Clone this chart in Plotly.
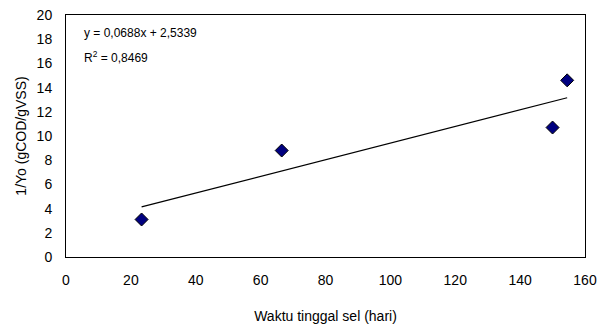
import plotly.graph_objects as go

# Data
waktu = [23.3, 66.5, 150.0, 154.5]          # Waktu tinggal sel (hari)
inv_yo = [3.1, 8.8, 10.7, 14.6]             # 1/Yo (gCOD/gVSS)
slope = 0.0688
intercept = 2.5339
r2 = 0.8469

x_ticks = [0, 20, 40, 60, 80, 100, 120, 140, 160]
y_ticks = [0, 2, 4, 6, 8, 10, 12, 14, 16, 18, 20]

FONT = "Liberation Sans, Arial, sans-serif"

xmin, xmax = min(waktu), max(waktu)
trend_x = [xmin, xmax]
trend_y = [intercept + slope * v for v in trend_x]

fig = go.Figure()
fig.add_trace(go.Scatter(
    x=trend_x, y=trend_y, mode="lines",
    line=dict(color="black", width=1.2),
    hoverinfo="skip", showlegend=False))
fig.add_trace(go.Scatter(
    x=waktu, y=inv_yo, mode="markers",
    marker=dict(symbol="diamond", size=10, color="#000080",
                line=dict(color="black", width=1)),
    showlegend=False))

fig.update_layout(
    width=603, height=331,
    margin=dict(l=66, r=18, t=15, b=74, autoexpand=False),
    paper_bgcolor="white", plot_bgcolor="white",
    font=dict(family=FONT, size=14, color="black"),
    xaxis=dict(range=[0, 160], tickvals=x_ticks, ticks="",
               showgrid=False, zeroline=False, automargin=False,
               showline=True, linecolor="black", linewidth=1, mirror=True,
               ticklabelstandoff=10,
               tickfont=dict(size=14, family=FONT),
               title=dict(text="Waktu tinggal sel (hari)",
                          font=dict(size=14, family=FONT), standoff=24)),
    yaxis=dict(range=[0, 20], tickvals=y_ticks, ticks="",
               showgrid=False, zeroline=False, automargin=False,
               showline=True, linecolor="black", linewidth=1, mirror=True,
               ticklabelstandoff=10,
               tickfont=dict(size=14, family=FONT),
               title=dict(text="1/Yo (gCOD/gVSS)",
                          font=dict(size=14, family=FONT), standoff=6)),
    annotations=[
        dict(xref="paper", yref="paper", x=0.03, y=0.926,
             xanchor="left", yanchor="middle", showarrow=False,
             text=f"y = {slope:.4f}x + {intercept:.4f}".replace(".", ","),
             font=dict(size=12, family=FONT)),
        dict(xref="paper", yref="paper", x=0.03, y=0.826,
             xanchor="left", yanchor="middle", showarrow=False,
             text=f"R<sup>2</sup> = {r2:.4f}".replace(".", ","),
             font=dict(size=12, family=FONT)),
    ],
)

fig.write_html("out.html",
               config={"displayModeBar": False},
               post_script="document.body.style.margin='0';")
